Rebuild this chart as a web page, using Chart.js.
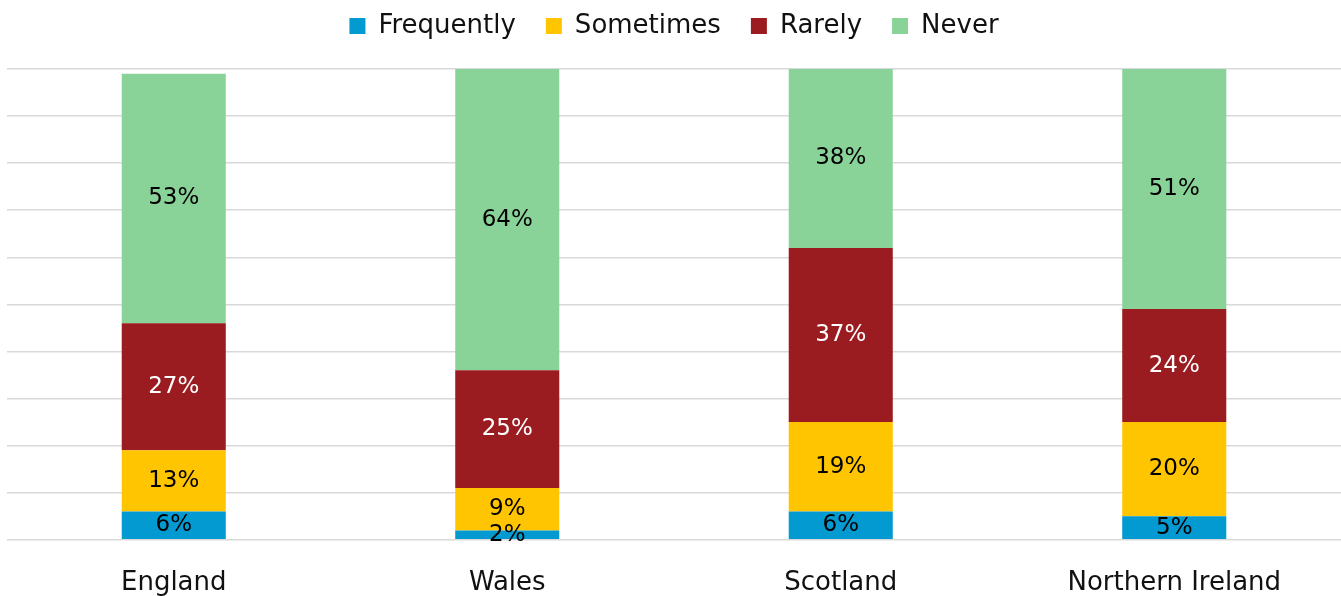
<!DOCTYPE html>
<html>
<head>
<meta charset="utf-8">
<script src="https://cdn.jsdelivr.net/npm/chart.js"></script>
<style>
  html, body { margin: 0; padding: 0; background: #fff; overflow: hidden; }
  #wrap { width: 1341px; height: 619px; }
</style>
</head>
<body>
<div id="wrap"><canvas id="chart"></canvas></div>
<script>
var nations = ['England', 'Wales', 'Scotland', 'Northern Ireland'];
var frequently = [6, 2, 6, 5];
var sometimes = [13, 9, 19, 20];
var rarely = [27, 25, 37, 24];
var never = [53, 64, 38, 51];

var seriesNames = ['Frequently', 'Sometimes', 'Rarely', 'Never'];
var barColors = ['#0399d1', '#ffc501', '#9b1c20', '#8ad398'];
var labelColors = ['#000', '#000', '#fff', '#000'];

var font = '"DejaVu Sans", sans-serif';

// percent labels in the middle of each segment
var segmentLabels = {
    id: 'segmentLabels',
    afterDatasetsDraw: function (chart) {
        var ctx = chart.ctx;
        ctx.save();
        ctx.font = '23px ' + font;
        ctx.textAlign = 'center';
        ctx.textBaseline = 'middle';
        chart.data.datasets.forEach(function (ds, i) {
            var meta = chart.getDatasetMeta(i);
            ctx.fillStyle = labelColors[i];
            meta.data.forEach(function (bar, j) {
                var p = bar.getProps(['x', 'y', 'base'], true);
                ctx.fillText(Math.round(ds.data[j]) + '%', p.x, (p.y + p.base) / 2);
            });
        });
        ctx.restore();
    }
};

// extra room under the legend
var legendGap = {
    id: 'legendGap',
    beforeInit: function (chart) {
        var fit = chart.legend.fit;
        chart.legend.fit = function () {
            fit.bind(chart.legend)();
            this.height += 20;
        };
    }
};

var datasets = [frequently, sometimes, rarely, never].map(function (vals, i) {
    return {
        label: seriesNames[i],
        data: vals,
        backgroundColor: barColors[i],
        borderWidth: 0,
        barPercentage: 0.312,
        categoryPercentage: 1
    };
});

var ctx = document.getElementById('chart').getContext('2d');
new Chart(ctx, {
    type: 'bar',
    data: { labels: nations, datasets: datasets },
    plugins: [segmentLabels, legendGap],
    options: {
        responsive: true,
        maintainAspectRatio: false,
        animation: false,
        layout: { padding: { left: 7, right: 0, top: -17, bottom: 0 } },
        plugins: {
            tooltip: { enabled: false },
            legend: {
                position: 'top',
                labels: {
                    boxWidth: 16,
                    boxHeight: 16,
                    padding: 30,
                    color: '#111',
                    font: { family: font, size: 26 }
                }
            }
        },
        scales: {
            x: {
                stacked: true,
                grid: { display: false },
                border: { display: false },
                ticks: {
                    padding: 20,
                    color: '#111',
                    font: { family: font, size: 26 }
                }
            },
            y: {
                stacked: true,
                min: 0,
                max: 100,
                ticks: { display: false, stepSize: 10 },
                border: { display: false },
                grid: { color: '#d9d9d9', lineWidth: 1.5, drawTicks: false }
            }
        }
    }
});
</script>
</body>
</html>
